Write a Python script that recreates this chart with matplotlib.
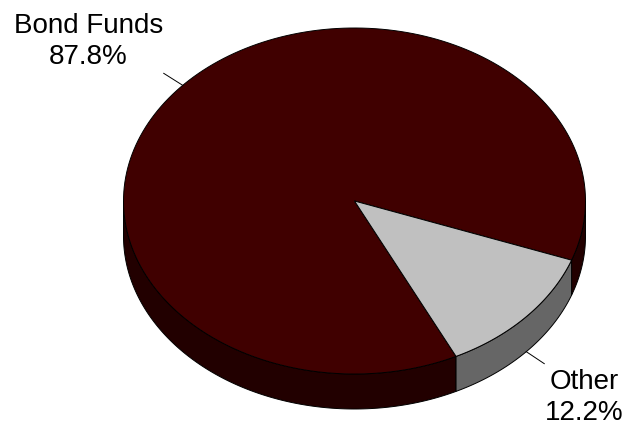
import numpy as np
import matplotlib
matplotlib.use("Agg")
import matplotlib.pyplot as plt
from matplotlib.patches import Polygon

labels = ["Bond Funds", "Other"]
shares = [87.8, 12.2]
top_colors = ["#400000", "#c0c0c0"]
side_colors = ["#220000", "#666666"]

# label anchor (centre x, baseline of first line) in pixels
label_pos = [(88.5, 33), (584, 389)]
leader_len = [(-19, -12), (18, 12)]

cx, cy = 354.5, 201      # pie centre
a, b = 231, 173          # ellipse radii
depth = 35               # thickness of the side
start = -20.0            # first slice starts here, counterclockwise

plt.rcParams['font.family'] = ['Liberation Sans', 'DejaVu Sans']

fig = plt.figure(figsize=(6.37, 4.33), dpi=100)
ax = fig.add_axes([0, 0, 1, 1])
ax.set_xlim(0, 637)
ax.set_ylim(433, 0)
ax.axis("off")


def arc(t1, t2, dy=0, n=200):
    t = np.radians(np.linspace(t1, t2, n))
    return np.column_stack([cx + a * np.cos(t), cy + dy - b * np.sin(t)])


bounds = start + np.concatenate([[0], np.cumsum(shares)]) * 3.6

# sides: only the front half (180..360 deg) is visible
for i in range(len(shares)):
    t1, t2 = bounds[i], bounds[i + 1]
    for off in (-360, 0, 360):
        lo = max(t1 + off, 180)
        hi = min(t2 + off, 360)
        if hi > lo:
            pts = np.vstack([arc(lo, hi), arc(hi, lo, depth)])
            ax.add_patch(Polygon(pts, closed=True, fc=side_colors[i],
                                 ec="black", lw=0.7))

# tops
for i in range(len(shares)):
    t1, t2 = bounds[i], bounds[i + 1]
    pts = np.vstack([[cx, cy], arc(t1, t2)])
    ax.add_patch(Polygon(pts, closed=True, fc=top_colors[i],
                         ec="black", lw=0.7))

# labels + leader lines
for i in range(len(shares)):
    mid = np.radians((bounds[i] + bounds[i + 1]) / 2)
    x0 = cx + a * np.cos(mid)
    y0 = cy - b * np.sin(mid)
    if np.sin(mid) < 0:
        y0 += depth
    ax.plot([x0, x0 + leader_len[i][0]], [y0, y0 + leader_len[i][1]],
            color="black", lw=0.7)
    lx, ly = label_pos[i]
    ax.text(lx, ly, labels[i], ha="center", va="baseline", fontsize=20)
    ax.text(lx, ly + 31, f"{shares[i]:.1f}%", ha="center", va="baseline",
            fontsize=20)

fig.savefig("out.png", dpi=100)
